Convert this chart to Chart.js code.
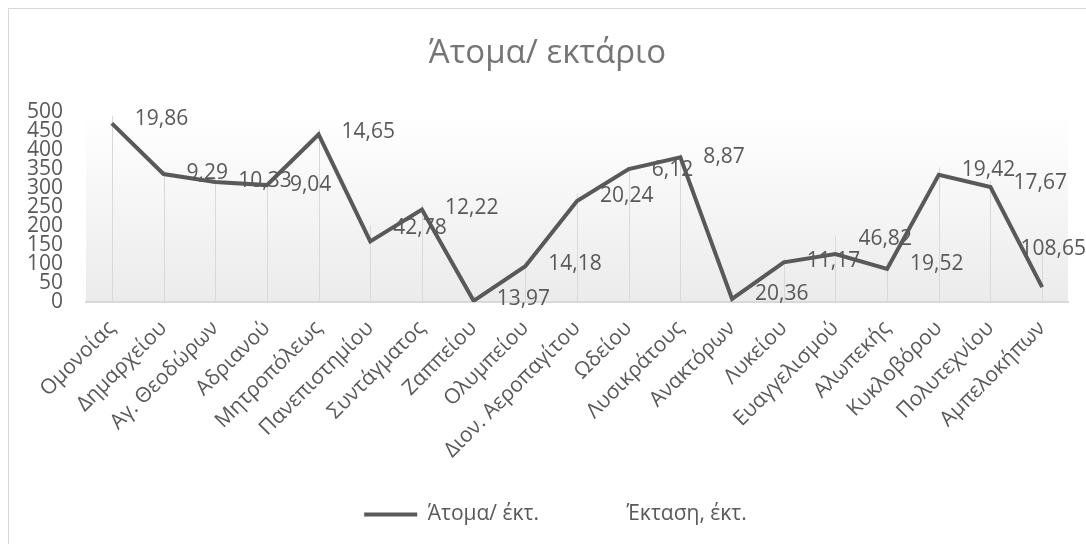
<!DOCTYPE html>
<html>
<head>
<meta charset="utf-8">
<script src="https://cdn.jsdelivr.net/npm/chart.js@4.4.0/dist/chart.umd.min.js"></script>
<style>
html, body { margin: 0; padding: 0; background: #fff; overflow: hidden; }
#frame { position: absolute; left: 8px; top: 8px; width: 1100px; height: 560px; border: 1px solid #d9d9d9; }
#c { position: absolute; left: 0; top: 0; }
</style>
</head>
<body>
<div id="frame"><canvas id="c" width="1077" height="535"></canvas></div>
<script>
const stations = ['Ομονοίας', 'Δημαρχείου', 'Αγ. Θεοδώρων', 'Αδριανού', 'Μητροπόλεως', 'Πανεπιστημίου',
  'Συντάγματος', 'Ζαππείου', 'Ολυμπείου', 'Διον. Αεροπαγίτου', 'Ωδείου', 'Λυσικράτους', 'Ανακτόρων',
  'Λυκείου', 'Ευαγγελισμού', 'Αλωπεκής', 'Κυκλοβόρου', 'Πολυτεχνίου', 'Αμπελοκήπων'];
const density = [469, 336, 315, 307, 440, 159, 243, 3, 94, 265, 349, 380, 8, 104, 126, 87, 334, 302, 39];
const hectares = [19.86, 9.29, 10.33, 9.04, 14.65, 42.78, 12.22, 13.97, 14.18, 20.24, 6.12, 8.87, 20.36,
  11.17, 46.82, 19.52, 19.42, 17.67, 108.65];
const yMin = 0, yMax = 500, yStep = 50;

const grey = '#595959';
const font = "'Open Sans', sans-serif";

// plot-area fill, drop lines and the hectare labels
const extras = {
  id: 'extras',
  afterLayout(chart) {
    // legend sits a little right of centre in the original
    chart.legend.left += 8;
    chart.legend.right += 8;
  },
  beforeDraw(chart) {
    const a = chart.chartArea, ctx = chart.ctx;
    const g = ctx.createLinearGradient(0, a.top, 0, a.bottom);
    g.addColorStop(0, '#ffffff');
    g.addColorStop(0.12, '#fdfdfd');
    g.addColorStop(1, '#ebebeb');
    ctx.save();
    ctx.fillStyle = g;
    ctx.fillRect(a.left, a.top, a.right - a.left, a.bottom - a.top);
    ctx.restore();
  },
  beforeDatasetsDraw(chart) {
    const ctx = chart.ctx, a = chart.chartArea;
    const m0 = chart.getDatasetMeta(0).data, m1 = chart.getDatasetMeta(1).data;
    ctx.save();
    ctx.strokeStyle = '#d9d9d9';
    ctx.lineWidth = 1;
    m0.forEach((p, i) => {
      const top = Math.min(p.y, m1[i].y);
      const x = Math.round(p.x) + 0.5;
      ctx.beginPath();
      ctx.moveTo(x, top);
      ctx.lineTo(x, a.bottom);
      ctx.stroke();
    });
    ctx.restore();
  },
  afterDatasetsDraw(chart) {
    const ctx = chart.ctx;
    const pts = chart.getDatasetMeta(1).data;
    ctx.save();
    ctx.font = '21px ' + font;
    ctx.fillStyle = grey;
    ctx.textBaseline = 'middle';
    ctx.textAlign = 'left';
    pts.forEach((p, i) => {
      const txt = hectares[i].toFixed(2).replace('.', ',');
      const w = ctx.measureText(txt).width;
      const x = Math.min(p.x + 23, chart.width - w);
      ctx.fillText(txt, x, p.y + 3);
    });
    ctx.restore();
  }
};

new Chart(document.getElementById('c'), {
  type: 'line',
  data: {
    labels: stations,
    datasets: [
      {
        label: 'Άτομα/ έκτ.',
        data: density,
        borderColor: grey,
        backgroundColor: grey,
        borderWidth: 4,
        pointRadius: 0,
        pointStyle: 'line',
        tension: 0,
        fill: false
      },
      {
        label: 'Έκταση, έκτ.',
        data: hectares,
        borderColor: 'rgba(0,0,0,0)',
        backgroundColor: 'rgba(0,0,0,0)',
        borderWidth: 0,
        pointRadius: 0,
        pointStyle: 'line',
        fill: false
      }
    ]
  },
  options: {
    responsive: false,
    animation: false,
    layout: { padding: { left: 18, right: 18, top: 0, bottom: 9 } },
    plugins: {
      tooltip: { enabled: false },
      title: {
        display: true,
        text: 'Άτομα/ εκτάριο',
        color: '#757575',
        font: { family: font, size: 33, weight: 'normal', lineHeight: 1.2 },
        padding: { top: 25, bottom: 38 }
      },
      legend: {
        position: 'bottom',
        labels: {
          color: grey,
          font: { family: font, size: 21 },
          usePointStyle: true,
          pointStyleWidth: 53,
          padding: 24
        }
      }
    },
    scales: {
      x: {
        offset: true,
        grid: { display: false, drawTicks: false },
        border: { display: true, color: '#d9d9d9', width: 2 },
        ticks: {
          color: grey,
          font: { family: font, size: 21 },
          maxRotation: 45,
          minRotation: 45,
          autoSkip: false,
          padding: 14
        },
        afterFit(scale) { scale.height = 178; }
      },
      y: {
        stacked: true,
        min: yMin,
        max: yMax,
        grid: { display: false, drawTicks: false },
        border: { display: false },
        ticks: {
          stepSize: yStep,
          autoSkip: false,
          color: grey,
          font: { family: font, size: 21, lineHeight: 1 },
          padding: 23
        },
        afterFit(scale) { scale.width = 59; }
      }
    }
  },
  plugins: [extras]
});
</script>
</body>
</html>
